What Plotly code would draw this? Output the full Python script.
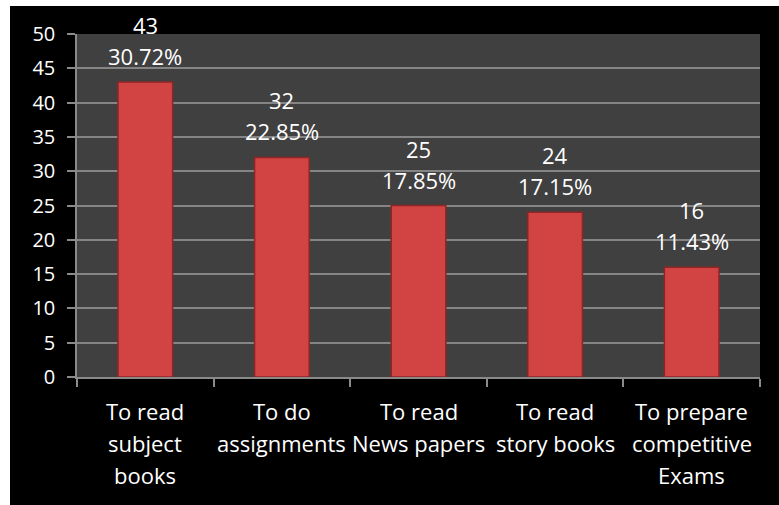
import plotly.graph_objects as go

categories = ["To read<br>subject<br>books", "To do<br>assignments", "To read<br>News papers",
              "To read<br>story books", "To prepare<br>competitive<br>Exams"]
counts = [43, 32, 25, 24, 16]
percents = [30.72, 22.85, 17.85, 17.15, 11.43]
y_ticks = [0, 5, 10, 15, 20, 25, 30, 35, 40, 45, 50]

FONT = "Open Sans"
W, H = 779, 505
L, R, T, B = 77, 19, 34, 128
pw, ph = W - L - R, H - T - B

fig = go.Figure()
fig.add_trace(go.Bar(
    x=categories, y=counts,
    marker=dict(color="#d24343", line=dict(color="#8e2626", width=1.5)),
    hoverinfo="skip",
))

annotations = []
for c, v, p in zip(categories, counts, percents):
    annotations.append(dict(x=c, y=v, xref="x", yref="y", text=f"{p:.2f}%", showarrow=False,
                            yanchor="bottom", yshift=9, font=dict(family=FONT, size=22, color="white")))
    annotations.append(dict(x=c, y=v, xref="x", yref="y", text=str(v), showarrow=False,
                            yanchor="bottom", yshift=40, font=dict(family=FONT, size=22, color="white")))
    # category label, one annotation per line for Excel-like line spacing
    for i, line in enumerate(c.split("<br>")):
        annotations.append(dict(x=c, y=0, xref="x", yref="y", text=line, showarrow=False,
                                yanchor="middle", yshift=-(34 + 32 * i),
                                font=dict(family=FONT, size=22, color="white")))

# white strips at the top and left of the black chart frame
fig.add_shape(type="rect", xref="paper", yref="paper", layer="below",
              x0=-L / pw - 0.01, x1=(10 - L) / pw, y0=-B / ph - 0.01, y1=(ph + T) / ph + 0.01,
              fillcolor="white", line=dict(width=0))
fig.add_shape(type="rect", xref="paper", yref="paper", layer="below",
              x0=-L / pw - 0.01, x1=(W - L) / pw + 0.01, y0=(ph + T - 6) / ph, y1=(ph + T) / ph + 0.01,
              fillcolor="white", line=dict(width=0))

fig.update_layout(
    width=W, height=H,
    margin=dict(l=L, r=R, t=T, b=B, pad=0, autoexpand=False),
    paper_bgcolor="black",
    plot_bgcolor="#404040",
    bargap=0.6,
    showlegend=False,
    annotations=annotations,
    font=dict(family=FONT, color="white"),
)
fig.update_yaxes(range=[0, 50], tickvals=y_ticks, showgrid=True, gridcolor="#858585", gridwidth=1.5,
                 showline=True, linecolor="#8a8a8a", linewidth=1.5, ticks="outside", ticklen=8,
                 tickcolor="#8a8a8a", tickwidth=1.5, ticklabelstandoff=8, zeroline=False, automargin=False,
                 tickfont=dict(family=FONT, size=20, color="white"), fixedrange=True)
fig.update_xaxes(showline=True, linecolor="#8a8a8a", linewidth=1.5, ticks="outside", ticklen=8,
                 tickcolor="#8a8a8a", tickwidth=1.5, tickson="boundaries", showgrid=False,
                 showticklabels=False, automargin=False, fixedrange=True)

fig.write_html("out.html", config={"displayModeBar": False},
               post_script="document.body.style.margin='0';document.body.style.background='black';"
                           "document.documentElement.style.background='black';")
